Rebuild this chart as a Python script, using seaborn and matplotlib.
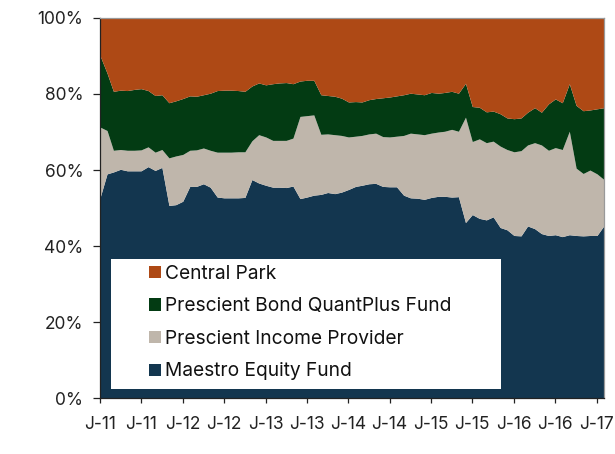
import pandas as pd
import numpy as np
import matplotlib.pyplot as plt
from matplotlib.patches import Rectangle
from matplotlib.ticker import PercentFormatter
import seaborn as sns

# monthly weights (%), Jan 2011 - Feb 2017
months = pd.date_range("2011-01-01", periods=74, freq="MS")

maestro = [52.7, 59.0, 59.5, 60.2, 59.8, 59.8, 59.8, 60.9, 59.9, 60.7,
           50.7, 50.9, 51.8, 55.7, 55.7, 56.4, 55.5, 52.9, 52.7, 52.7,
           52.7, 52.8, 57.5, 56.6, 56.0, 55.5, 55.5, 55.4, 55.8, 52.5,
           52.9, 53.4, 53.6, 54.1, 53.8, 54.2, 54.9, 55.7, 56.0, 56.4,
           56.5, 55.7, 55.6, 55.6, 53.4, 52.7, 52.6, 52.3, 52.8, 53.1,
           53.1, 52.9, 53.0, 46.2, 48.3, 47.3, 46.9, 47.7, 44.9, 44.3,
           42.8, 42.7, 45.3, 44.6, 43.3, 42.8, 43.0, 42.5, 43.0, 42.8,
           42.7, 42.8, 42.8, 45.4]
income = [18.6, 11.4, 5.7, 5.2, 5.4, 5.4, 5.5, 5.2, 4.8, 4.7,
          12.5, 12.8, 12.3, 9.5, 9.6, 9.4, 9.7, 11.8, 12.0, 12.0,
          12.1, 12.0, 10.2, 12.7, 12.7, 12.3, 12.3, 12.4, 12.6, 21.6,
          21.4, 21.1, 15.8, 15.4, 15.5, 14.9, 13.8, 13.2, 13.1, 13.1,
          13.2, 13.1, 13.1, 13.3, 15.7, 17.0, 16.9, 17.0, 16.9, 16.9,
          17.1, 17.8, 17.2, 27.7, 19.2, 20.9, 20.3, 19.9, 21.4, 21.1,
          22.0, 22.4, 21.3, 22.6, 23.3, 22.4, 22.9, 22.9, 27.2, 17.7,
          16.4, 17.2, 16.2, 12.1]
bond = [18.8, 15.1, 15.5, 15.6, 15.7, 16.0, 16.1, 14.8, 14.9, 14.4,
        14.5, 14.5, 14.7, 14.3, 14.1, 14.0, 15.0, 16.2, 16.3, 16.3,
        16.1, 15.9, 14.4, 13.6, 13.7, 14.9, 15.1, 15.2, 14.3, 9.3,
        9.3, 9.1, 10.4, 10.1, 10.1, 9.8, 9.2, 9.1, 8.8, 9.0,
        9.1, 10.2, 10.5, 10.6, 10.7, 10.5, 10.5, 10.5, 10.7, 10.2,
        10.2, 10.0, 10.0, 8.9, 9.2, 8.3, 8.1, 7.9, 8.5, 8.3,
        8.7, 8.6, 8.6, 9.2, 8.6, 12.2, 12.8, 12.3, 12.5, 16.5,
        16.5, 15.8, 17.1, 18.9]
central = [9.9, 14.5, 19.3, 19.0, 19.1, 18.8, 18.6, 19.1, 20.4, 20.2,
           22.3, 21.8, 21.2, 20.5, 20.6, 20.2, 19.8, 19.1, 19.0, 19.0,
           19.1, 19.3, 17.9, 17.1, 17.6, 17.3, 17.1, 17.0, 17.3, 16.6,
           16.4, 16.4, 20.2, 20.4, 20.6, 21.1, 22.1, 22.0, 22.1, 21.5,
           21.2, 21.0, 20.8, 20.5, 20.2, 19.8, 20.0, 20.2, 19.6, 19.8,
           19.6, 19.3, 19.8, 17.2, 23.3, 23.5, 24.7, 24.5, 25.2, 26.3,
           26.5, 26.3, 24.8, 23.6, 24.8, 22.6, 21.3, 22.3, 17.3, 23.0,
           24.4, 24.2, 23.9, 23.6]

funds = ["Maestro Equity Fund", "Prescient Income Provider",
         "Prescient Bond QuantPlus Fund", "Central Park"]
colors = ["#13364f", "#bfb6ab", "#033b13", "#ae4915"]

df = pd.DataFrame({"month": months, funds[0]: maestro, funds[1]: income,
                   funds[2]: bond, funds[3]: central})
share = df[funds].div(df[funds].sum(axis=1), axis=0)

sns.set_style("ticks")
plt.rcParams["font.family"] = ["Inter", "DejaVu Sans"]

fig = plt.figure(figsize=(6.15, 4.54), dpi=100)
ax = fig.add_axes([0.1626, 0.1227, 0.8195, 0.8379])
ax.stackplot(df["month"], *[share[f] for f in funds], labels=funds,
             colors=sns.color_palette(colors), linewidth=0)

ax.set_xlim(df["month"].iloc[0], df["month"].iloc[-1])
ax.set_ylim(0, 1)
ax.yaxis.set_major_formatter(PercentFormatter(1.0, decimals=0))
ax.set_yticks(np.arange(0, 1.01, 0.2))
ticks = [m for m in months if m.month in (1, 7)]
ax.set_xticks(ticks)
ax.set_xticklabels([f"J-{m.strftime('%y')}" for m in ticks])

ax.tick_params(axis="y", length=5, width=0.9, pad=7, labelsize=12.5,
               colors="#222222")
ax.tick_params(axis="x", length=3.5, width=0.9, pad=9, labelsize=12.5,
               colors="#222222")
for s in ["left", "bottom"]:
    ax.spines[s].set_color("#222222")
    ax.spines[s].set_linewidth(0.9)
for s in ["top", "right"]:
    ax.spines[s].set_color("#999999")
    ax.spines[s].set_linewidth(0.9)

ax.add_patch(Rectangle((0.0218, 0.0244), 0.774, 0.342, transform=ax.transAxes,
                       facecolor="white", edgecolor="none", zorder=3))
handles, labels = ax.get_legend_handles_labels()
leg = ax.legend(handles[::-1], labels[::-1], loc="upper left",
                bbox_to_anchor=(0.0978, 0.351), frameon=False, fontsize=13.8,
                borderpad=0, borderaxespad=0, handlelength=0.61,
                handleheight=0.61, handletextpad=0.22, labelspacing=0.76)
leg.set_zorder(4)
for t in leg.get_texts():
    t.set_color("#111111")

fig.savefig("out.png", dpi=100)
